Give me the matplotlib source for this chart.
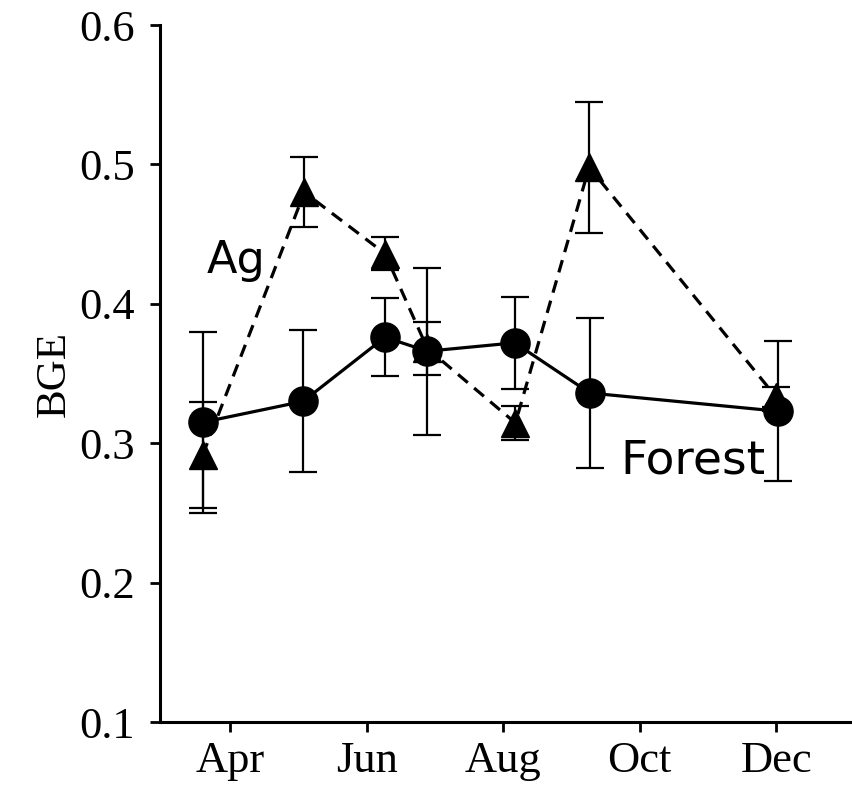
import matplotlib
matplotlib.use("Agg")
import matplotlib.pyplot as plt

# Month positions (Apr = 4, Dec = 12)
tick_pos = [4, 6, 8, 10, 12]
tick_labels = ["Apr", "Jun", "Aug", "Oct", "Dec"]
ytick_pos = [0.1, 0.2, 0.3, 0.4, 0.5, 0.6]
ytick_labels = ["0.1", "0.2", "0.3", "0.4", "0.5", "0.6"]

forest_x = [3.60, 5.07, 6.27, 6.89, 8.17, 9.27, 12.02]
forest_y = [0.315, 0.330, 0.376, 0.366, 0.372, 0.336, 0.323]
forest_err = [0.065, 0.051, 0.028, 0.060, 0.033, 0.054, 0.050]

ag_x = [3.60, 5.09, 6.27, 6.89, 8.18, 9.26, 12.00]
ag_y = [0.2915, 0.480, 0.436, 0.368, 0.3145, 0.498, 0.333]
ag_err = [0.038, 0.025, 0.012, 0.019, 0.0125, 0.047, 0.007]

fig = plt.figure(figsize=(8.52, 7.87), dpi=100)
ax = fig.add_axes([160/852, 65/787, 690/852, 697/787])

ax.errorbar(ag_x, ag_y, yerr=ag_err, color="black", linestyle=(0, (4, 2.6)),
            linewidth=2.3, marker="^", markersize=20, elinewidth=1.6,
            capsize=10, capthick=1.6, zorder=2)
ax.errorbar(forest_x, forest_y, yerr=forest_err, color="black", linestyle="-",
            linewidth=2.3, marker="o", markersize=21, elinewidth=1.6,
            capsize=10, capthick=1.6, zorder=3)

ax.set_xlim(2.975, 13.08)
ax.set_ylim(0.1, 0.6)
ax.set_xticks(tick_pos)
ax.set_xticklabels(tick_labels)
ax.set_yticks(ytick_pos)
ax.set_yticklabels(ytick_labels)

for lab in ax.get_xticklabels() + ax.get_yticklabels():
    lab.set_fontfamily("Liberation Serif")
    lab.set_fontsize(32)

ax.tick_params(axis="both", direction="out", length=7, width=2)
ax.tick_params(axis="x", pad=7)
ax.tick_params(axis="y", pad=11)
ax.spines["top"].set_visible(False)
ax.spines["right"].set_visible(False)
ax.spines["left"].set_linewidth(2.2)
ax.spines["bottom"].set_linewidth(2.2)

ax.set_ylabel("BGE", fontfamily="Liberation Serif", fontsize=31, labelpad=4)

ax.text(0.068, 0.644, "Ag", transform=ax.transAxes, fontsize=32,
        fontfamily="DejaVu Sans", va="baseline", ha="left")
ax.text(0.667, 0.357, "Forest", transform=ax.transAxes, fontsize=34,
        fontfamily="DejaVu Sans", va="baseline", ha="left")

fig.savefig("out.png", dpi=100)
